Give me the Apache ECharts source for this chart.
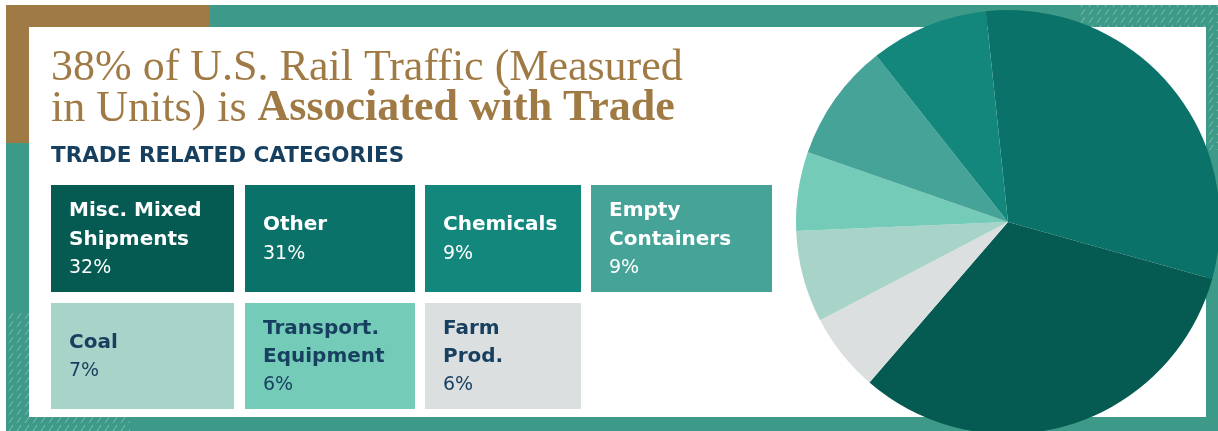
<!DOCTYPE html>
<html>
<head>
<meta charset="utf-8">
<script src="https://cdn.jsdelivr.net/npm/echarts@6/dist/echarts.min.js"></script>
<style>
  html, body { margin: 0; padding: 0; background: #fff; }
  #chart { width: 1218px; height: 431px; }
</style>
</head>
<body>
<div id="chart"></div>
<script>
const categories = ["Misc. Mixed Shipments", "Other", "Chemicals", "Empty Containers", "Coal", "Transport. Equipment", "Farm Prod."];
const boxLabels = ["Misc. Mixed\nShipments", "Other", "Chemicals", "Empty\nContainers", "Coal", "Transport.\nEquipment", "Farm\nProd."];
const shares = [32, 31, 9, 9, 7, 6, 6];
// order of the slices clockwise from the top of the pie
const pieOrder = ["Other", "Misc. Mixed Shipments", "Farm Prod.", "Coal", "Transport. Equipment", "Empty Containers", "Chemicals"];

const colors = ["#055a52", "#0a7268", "#13877c", "#46a397", "#a8d3c8", "#74cbb8", "#dcdfe0"];
const textColors = ["#fff", "#fff", "#fff", "#fff", "#173f5f", "#173f5f", "#173f5f"];
const teal = "#3e9a88";
const brown = "#a07a44";
const navy = "#173f5f";

// box layout: [x, y, w, h]
const boxes = [
  [51, 185, 183, 107], [245, 185, 170, 107], [425, 185, 156, 107], [591, 185, 181, 107],
  [51, 303, 183, 106], [245, 303, 170, 106], [425, 303, 156, 106]
];

function hatch() {
  const c = document.createElement("canvas");
  c.width = 8; c.height = 8;
  const ctx = c.getContext("2d");
  ctx.fillStyle = teal;
  ctx.fillRect(0, 0, 8, 8);
  ctx.strokeStyle = "rgba(255,255,255,0.35)";
  ctx.lineWidth = 1;
  ctx.beginPath();
  ctx.moveTo(1, 7); ctx.lineTo(5, 1);
  ctx.stroke();
  return { image: c, repeat: "repeat" };
}

const chart = echarts.init(document.getElementById("chart"));

const graphics = [
  { type: "rect", shape: { x: 6, y: 5, width: 1212, height: 426 }, style: { fill: teal }, z: 0 },
  { type: "rect", shape: { x: 1080, y: 5, width: 138, height: 22 }, style: { fill: hatch() }, z: 0 },
  { type: "rect", shape: { x: 1206, y: 5, width: 12, height: 145 }, style: { fill: hatch() }, z: 0 },
  { type: "rect", shape: { x: 6, y: 312, width: 23, height: 119 }, style: { fill: hatch() }, z: 0 },
  { type: "rect", shape: { x: 6, y: 417, width: 124, height: 14 }, style: { fill: hatch() }, z: 0 },
  { type: "rect", shape: { x: 6, y: 5, width: 204, height: 22 }, style: { fill: brown }, z: 0 },
  { type: "rect", shape: { x: 6, y: 5, width: 23, height: 138 }, style: { fill: brown }, z: 0 },
  { type: "rect", shape: { x: 29, y: 27, width: 1177, height: 390 }, style: { fill: "#fff" }, z: 1 },
  {
    type: "text", x: 51, y: 46, z: 5,
    style: {
      text: "38% of U.S. Rail Traffic (Measured",
      fill: brown, font: "44px 'Liberation Serif'", verticalAlign: "top"
    }
  },
  {
    type: "text", x: 51, y: 87, z: 5,
    style: {
      text: "{r|in Units) is }{b|Associated with Trade}",
      verticalAlign: "top",
      rich: {
        r: { fill: brown, font: "44px 'Liberation Serif'" },
        b: { fill: brown, font: "bold 44px 'Liberation Serif'" }
      }
    }
  },
  {
    type: "text", x: 51, y: 145, z: 5,
    style: {
      text: "TRADE RELATED CATEGORIES",
      fill: navy, font: "bold 21.5px 'DejaVu Sans'", verticalAlign: "top"
    }
  }
];

categories.forEach((name, i) => {
  const [x, y, w, h] = boxes[i];
  graphics.push({ type: "rect", shape: { x, y, width: w, height: h }, style: { fill: colors[i] }, z: 3 });
  graphics.push({
    type: "text", x: x + 18, y: y + h / 2 + 1, z: 5,
    style: {
      text: "{n|" + boxLabels[i] + "}\n{p|" + shares[i] + "%}",
      verticalAlign: "middle",
      rich: {
        n: { fill: textColors[i], font: "bold 20px 'DejaVu Sans'", lineHeight: 28.5 },
        p: { fill: textColors[i], font: "19px 'DejaVu Sans'", lineHeight: 28.5 }
      }
    }
  });
});

const pieData = pieOrder.map((name) => {
  const i = categories.indexOf(name);
  return { name, value: shares[i], itemStyle: { color: colors[i] } };
});

chart.setOption({
  animation: false,
  graphic: { elements: graphics },
  series: [
    {
      type: "pie",
      z: 10,
      center: [1008, 222],
      radius: 212,
      startAngle: 96,
      clockwise: true,
      silent: true,
      label: { show: false },
      labelLine: { show: false },
      itemStyle: { borderWidth: 0 },
      data: pieData
    }
  ]
});
</script>
</body>
</html>
